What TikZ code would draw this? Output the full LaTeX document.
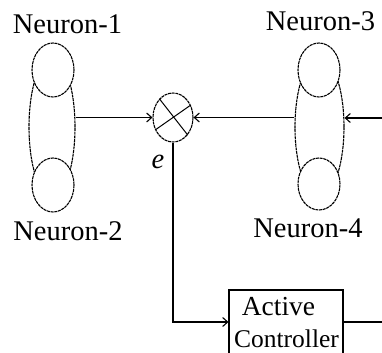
\documentclass[tikz,border=0pt]{standalone}
\usepackage{fontspec}
\setmainfont{Liberation Serif}
\usetikzlibrary{shapes.geometric,arrows.meta}
\begin{document}
\begin{tikzpicture}[x=1bp,y=-1bp,
  neur/.style={draw, ellipse, inner sep=0pt, line width=1.1bp, dash pattern=on 3bp off 0.7bp},
  cell/.style={neur, fill=white},
  lbl/.style={anchor=base, inner sep=0pt, font=\fontsize{28.5bp}{30bp}\selectfont},
  conn/.style={line width=1.1bp},
  arr/.style={conn, -{Straight Barb[length=5bp,width=9bp]}},
  boxst/.style={draw, line width=1.1bp, minimum width=114bp, minimum height=64bp, inner sep=0pt}]
\useasboundingbox (0,0) rectangle (382,353);
% left pair
\node[neur, minimum width=46bp, minimum height=140bp] (n12) at (52,127) {};
\node[cell, minimum width=42bp, minimum height=54bp] (n1) at (53,70) {};
\node[cell, minimum width=42bp, minimum height=54bp] (n2) at (53,185) {};
% right pair
\node[neur, minimum width=49bp, minimum height=140bp] (n34) at (319.5,127) {};
\node[cell, minimum width=42bp, minimum height=54bp] (n3) at (319,70) {};
\node[cell, minimum width=42bp, minimum height=52bp] (n4) at (319,184) {};
% mixer
\node[neur, minimum width=40bp, minimum height=49bp] (mix) at (173,117.5) {};
\draw[line width=1bp] (mix.126) -- (mix.-50);
\draw[line width=1bp] (mix.215) -- (mix.35);
% controller
\node[boxst] (ctrl) at (286,322) {};
\node[lbl, font=\fontsize{27.5bp}{30bp}\selectfont] (act) at (278.5,315) {Active};
\node[lbl, font=\fontsize{25.5bp}{27bp}\selectfont] (con) at (286.5,347.5) {Controller};
% labels
\node[lbl] (t1) at (67.5,33) {Neuron-1};
\node[lbl] (t2) at (68,240) {Neuron-2};
\node[lbl] (t3) at (320.5,30) {Neuron-3};
\node[lbl] (t4) at (308,237) {Neuron-4};
\node[lbl, font=\fontsize{28.5bp}{30bp}\selectfont\itshape] (e) at (158,168) {e};
% connectors
\coordinate (rin) at (382,118);
\coordinate (rout) at (382,320);
\draw[arr] (mix.west -| n12.east) -- (mix.west);
\draw[arr] (mix.east -| n34.west) -- (mix.east);
\draw[arr] (rin) -- (rin -| n34.east);
\draw[arr] (mix.south) |- (ctrl.west);
\draw[conn] (ctrl.east) -- (ctrl.east -| rout);
\end{tikzpicture}
\end{document}
